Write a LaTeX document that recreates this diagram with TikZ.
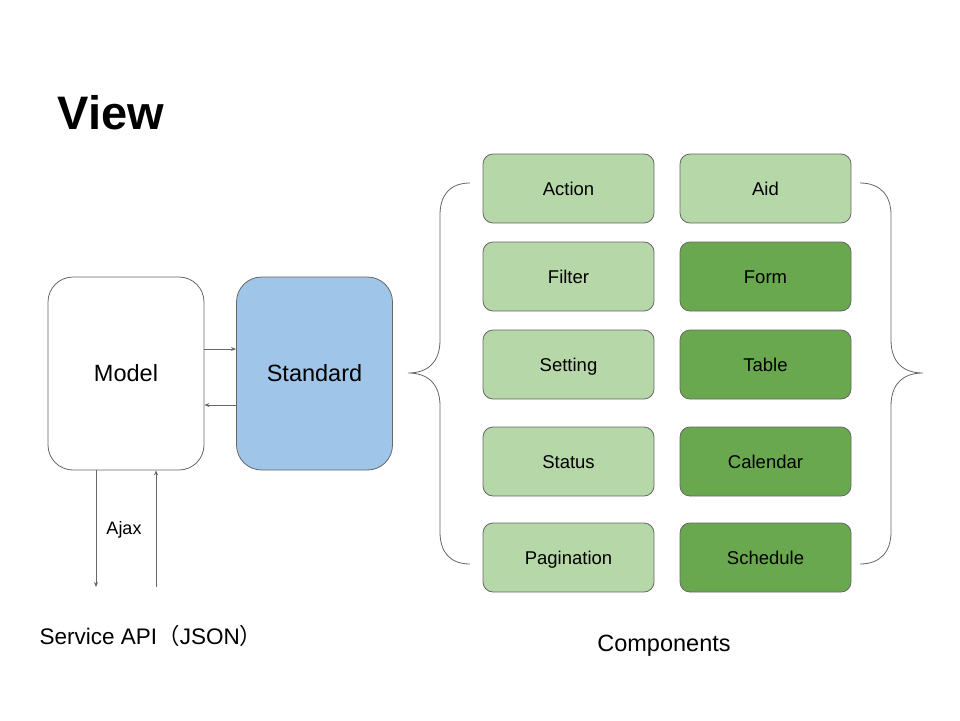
\documentclass[tikz,border=0pt]{standalone}
\usepackage{fontspec}
\setmainfont{Liberation Sans}
\newfontfamily\cjk{Noto Sans CJK JP}
\usepackage{xcolor}
\usepackage{tikz}
\usetikzlibrary{arrows.meta, positioning, calc}

\definecolor{linegray}{HTML}{666666}
\definecolor{stdblue}{HTML}{9FC5E8}
\definecolor{lightgreen}{HTML}{B6D7A8}
\definecolor{darkgreen}{HTML}{6AA84F}

\begin{document}
\begin{tikzpicture}[x=1pt, y=-1pt, line width=0.8pt]
		
		\tikzset{
			txt/.style={font=\fontsize{#1}{#1}\selectfont, text height={0.716*#1pt}, text depth=0pt},
			bigbox/.style={txt=23.5, draw=linegray, rounded corners=25pt, minimum width=156pt, minimum height=193pt},
			compbox/.style={txt=18.5, draw=linegray, rounded corners=10pt, minimum width=171pt, minimum height=69pt},
			light/.style={compbox, fill=lightgreen},
			dark/.style={compbox, fill=darkgreen},
			flow/.style={draw=linegray, -{Stealth[length=5pt, width=4pt]}},
			brace/.style={draw=linegray, line width=0.8pt},
		}
		
		\useasboundingbox (0,0) rectangle (960,720);
		
		\node [txt=47, font=\fontsize{47}{47}\selectfont\bfseries] (title) at (111,113) {View};
		
		\node [bigbox, fill=white] (model) at (126,373.5) {Model};
		\node [bigbox, fill=stdblue] (std) at (314.5,373.5) {Standard};
		
		\draw [flow] ([yshift=24.5pt]model.east) -- ([yshift=24.5pt]std.west);
		\draw [flow] ([yshift=-31.5pt]std.west) -- ([yshift=-31.5pt]model.east);
		
		\coordinate (apiout) at (96,587);
		\coordinate (apiin) at (156,587);
		\draw [flow] (model.south -| apiout) -- (apiout);
		\draw [flow] (apiin) -- (model.south -| apiin);
		\node [txt=18] (ajax) at (124,528) {Ajax};
		
		\node [txt=22.5] (api) at (151,636) {Service API{\cjk （}JSON{\cjk ）}};
		
		\node [light] (action) at (568.5,188.5) {Action};
		\node [light] (filter) at (568.5,276.5) {Filter};
		\node [light] (setting) at (568.5,364.5) {Setting};
		\node [light] (status) at (568.5,461.5) {Status};
		\node [light] (pagination) at (568.5,557.5) {Pagination};
		
		\node [light] (aid) at (765.5,188.5) {Aid};
		\node [dark] (form) at (765.5,276.5) {Form};
		\node [dark] (table) at (765.5,364.5) {Table};
		\node [dark] (calendar) at (765.5,461.5) {Calendar};
		\node [dark] (schedule) at (765.5,557.5) {Schedule};
		
		\draw [brace] (470,183) .. controls (450,183) and (440,195) .. (440,215)
			-- (440,340) .. controls (440,362) and (428,373) .. (408,373)
			.. controls (428,373) and (440,384) .. (440,406)
			-- (440,532) .. controls (440,552) and (450,564) .. (470,564);
		\draw [brace] (860,183) .. controls (880,183) and (891,195) .. (891,215)
			-- (891,340) .. controls (891,362) and (903,373) .. (923,373)
			.. controls (903,373) and (891,384) .. (891,406)
			-- (891,532) .. controls (891,552) and (880,564) .. (860,564);
		
		\node [txt=23.5] (comps) at (664,643) {Components};
		
\end{tikzpicture}
\end{document}
